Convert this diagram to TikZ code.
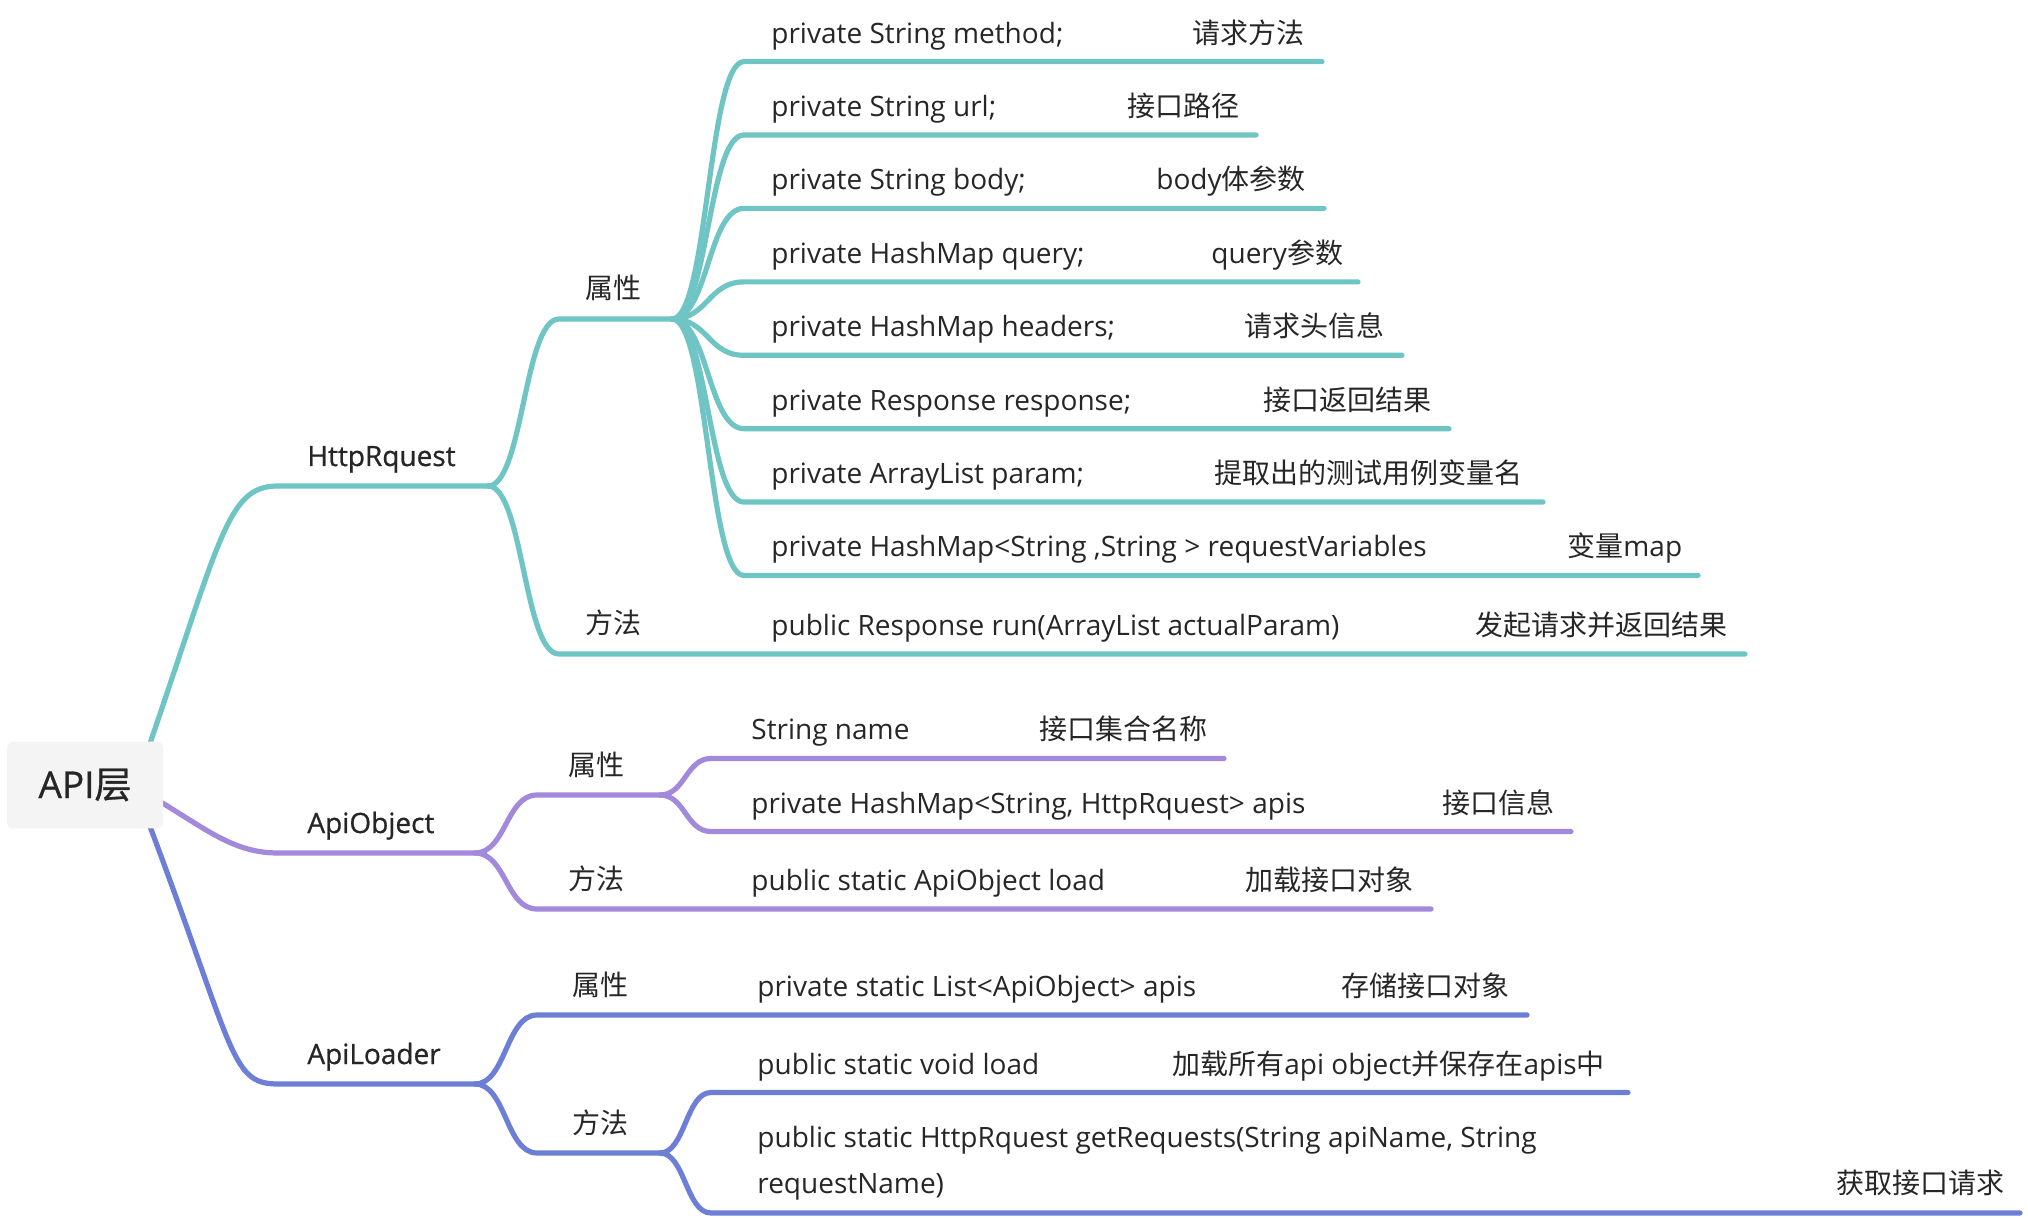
\documentclass[tikz,border=0pt]{standalone}
\usepackage{fontspec}
\setmainfont{Open Sans}
\newfontfamily\cjk{Noto Sans CJK SC}
\newfontfamily\semib[FakeBold=0.8]{Open Sans}
\newfontfamily\cjksemib[FakeBold=0.8]{Noto Sans CJK SC}
\newcommand{\zh}[1]{{\cjk #1}}
\usepackage{xcolor}
\usepackage{tikz}

\definecolor{tealline}{HTML}{6FC4C4}
\definecolor{purpline}{HTML}{A389DB}
\definecolor{blueline}{HTML}{6D7ED6}
\definecolor{rootgray}{HTML}{F4F4F4}
\definecolor{ink}{HTML}{262626}

\begin{document}
\begin{tikzpicture}[x=0.5pt,y=-0.5pt,
		txt/.style={anchor=base west, inner sep=0pt, text=ink, font=\fontsize{14}{23}\selectfont},
		head/.style={txt, font=\fontsize{14}{23}\selectfont\semib},
		wire/.style={line width=2.6pt, line cap=round}]
				\useasboundingbox (0,0) rectangle (2028,1218);
				\coordinate (rootOut) at (135,787);
				% HttpRquest
				\coordinate (hrA) at (278,486); \coordinate (hrB) at (488,486);
				\coordinate (hrAttrA) at (559,319); \coordinate (hrAttrB) at (672,319);
				\coordinate (hrMethA) at (559,654); \coordinate (hrMethB) at (1745,654);
				\coordinate (m1a) at (744,61.6); \coordinate (m1b) at (1322,61.6);
				\coordinate (m2a) at (744,135); \coordinate (m2b) at (1256,135);
				\coordinate (m3a) at (744,208.4); \coordinate (m3b) at (1324,208.4);
				\coordinate (m4a) at (744,281.9); \coordinate (m4b) at (1358,281.9);
				\coordinate (m5a) at (744,355.3); \coordinate (m5b) at (1402,355.3);
				\coordinate (m6a) at (744,428.7); \coordinate (m6b) at (1449,428.7);
				\coordinate (m7a) at (744,502.1); \coordinate (m7b) at (1543,502.1);
				\coordinate (m8a) at (744,575.5); \coordinate (m8b) at (1698,575.5);
				\draw[wire, tealline] (rootOut) .. controls (221,540) and (225,486) .. (hrA) -- (hrB);
				\draw[wire, tealline] (hrB) .. controls +(35,0) and +(-35,0) .. (hrAttrA) -- (hrAttrB);
				\draw[wire, tealline] (hrB) .. controls +(35,0) and +(-35,0) .. (hrMethA) -- (hrMethB);
				\draw[wire, tealline] (hrAttrB) .. controls +(36,0) and +(-36,0) .. (m1a) -- (m1b);
				\draw[wire, tealline] (hrAttrB) .. controls +(36,0) and +(-36,0) .. (m2a) -- (m2b);
				\draw[wire, tealline] (hrAttrB) .. controls +(36,0) and +(-36,0) .. (m3a) -- (m3b);
				\draw[wire, tealline] (hrAttrB) .. controls +(36,0) and +(-36,0) .. (m4a) -- (m4b);
				\draw[wire, tealline] (hrAttrB) .. controls +(36,0) and +(-36,0) .. (m5a) -- (m5b);
				\draw[wire, tealline] (hrAttrB) .. controls +(36,0) and +(-36,0) .. (m6a) -- (m6b);
				\draw[wire, tealline] (hrAttrB) .. controls +(36,0) and +(-36,0) .. (m7a) -- (m7b);
				\draw[wire, tealline] (hrAttrB) .. controls +(36,0) and +(-36,0) .. (m8a) -- (m8b);
				\node[head] (hr) at (307,466) {HttpRquest};
				\node[txt] (hrAttr) at (585,299) {\zh{属性}};
				\node[txt] (hrMeth) at (585,634) {\zh{方法}};
				\node[txt] (m1) at (771,43.1) {private String method;};
				\node[txt] (m1d) at (1192,43.1) {\zh{请求方法}};
				\node[txt] (m2) at (771,116.5) {private String url;};
				\node[txt] (m2d) at (1127,116.5) {\zh{接口路径}};
				\node[txt] (m3) at (771,189.9) {private String body;};
				\node[txt] (m3d) at (1156,189.9) {body\zh{体参数}};
				\node[txt] (m4) at (771,263.4) {private HashMap query;};
				\node[txt] (m4d) at (1211,263.4) {query\zh{参数}};
				\node[txt] (m5) at (771,336.8) {private HashMap headers;};
				\node[txt] (m5d) at (1244,336.8) {\zh{请求头信息}};
				\node[txt] (m6) at (771,410.2) {private Response response;};
				\node[txt] (m6d) at (1263,410.2) {\zh{接口返回结果}};
				\node[txt] (m7) at (771,483.6) {private ArrayList param;};
				\node[txt] (m7d) at (1214,483.6) {\zh{提取出的测试用例变量名}};
				\node[txt] (m8) at (771,557) {private HashMap<String ,String > requestVariables};
				\node[txt] (m8d) at (1567,557) {\zh{变量}map};
				\node[txt] (run) at (771,635.5) {public Response run(ArrayList actualParam)};
				\node[txt] (rund) at (1475,635.5) {\zh{发起请求并返回结果}};
				% ApiObject
				\coordinate (aoA) at (278,853); \coordinate (aoB) at (475,853);
				\coordinate (aoAttrA) at (537,795); \coordinate (aoAttrB) at (660,795);
				\coordinate (aoMethA) at (537,909); \coordinate (aoMethB) at (1431,909);
				\coordinate (n1a) at (711,758.5); \coordinate (n1b) at (1224,758.5);
				\coordinate (n2a) at (711,831.5); \coordinate (n2b) at (1571,831.5);
				\draw[wire, purpline] (rootOut) .. controls (200,823) and (228,853) .. (aoA) -- (aoB);
				\draw[wire, purpline] (aoB) .. controls +(31,0) and +(-31,0) .. (aoAttrA) -- (aoAttrB);
				\draw[wire, purpline] (aoB) .. controls +(31,0) and +(-31,0) .. (aoMethA) -- (aoMethB);
				\draw[wire, purpline] (aoAttrB) .. controls +(25,0) and +(-25,0) .. (n1a) -- (n1b);
				\draw[wire, purpline] (aoAttrB) .. controls +(25,0) and +(-25,0) .. (n2a) -- (n2b);
				\node[head] (ao) at (307,833) {ApiObject};
				\node[txt] (aoAttr) at (568,775) {\zh{属性}};
				\node[txt] (aoMeth) at (568,889) {\zh{方法}};
				\node[txt] (n1) at (751,740) {String name};
				\node[txt] (n1d) at (1039,740) {\zh{接口集合名称}};
				\node[txt] (n2) at (751,813) {private HashMap<String, HttpRquest> apis};
				\node[txt] (n2d) at (1442,813) {\zh{接口信息}};
				\node[txt] (load) at (751,890) {public static ApiObject load};
				\node[txt] (loadd) at (1245,890) {\zh{加载接口对象}};
				% ApiLoader
				\coordinate (alA) at (278,1084); \coordinate (alB) at (475,1084);
				\coordinate (alAttrA) at (537,1015); \coordinate (alAttrB) at (1527,1015);
				\coordinate (alMethA) at (537,1153); \coordinate (alMethB) at (660,1153);
				\coordinate (l1a) at (711,1092.5); \coordinate (l1b) at (1628,1092.5);
				\coordinate (l2a) at (711,1213); \coordinate (l2b) at (2020,1213);
				\draw[wire, blueline] (rootOut) .. controls (236,1050) and (228,1084) .. (alA) -- (alB);
				\draw[wire, blueline] (alB) .. controls +(31,0) and +(-31,0) .. (alAttrA) -- (alAttrB);
				\draw[wire, blueline] (alB) .. controls +(31,0) and +(-31,0) .. (alMethA) -- (alMethB);
				\draw[wire, blueline] (alMethB) .. controls +(25,0) and +(-25,0) .. (l1a) -- (l1b);
				\draw[wire, blueline] (alMethB) .. controls +(25,0) and +(-25,0) .. (l2a) -- (l2b);
				\node[head] (al) at (307,1064) {ApiLoader};
				\node[txt] (alAttr) at (572,995) {\zh{属性}};
				\node[txt] (alMeth) at (572,1133) {\zh{方法}};
				\node[txt] (apis) at (757,996.5) {private static List<ApiObject> apis};
				\node[txt] (apisd) at (1341,996.5) {\zh{存储接口对象}};
				\node[txt] (l1) at (757,1074) {public static void load};
				\node[txt] (l1d) at (1172,1074) {\zh{加载所有}api object\zh{并保存在}apis\zh{中}};
				\node[txt, align=left] (l2) at (757,1193) {public static HttpRquest getRequests(String apiName, String\\requestName)};
				\node[txt] (l2d) at (1836,1193) {\zh{获取接口请求}};
				% root on top of its wires
				\node[fill=rootgray, rounded corners=3pt, minimum width=78pt, minimum height=43.3pt, inner sep=0pt, text=ink, font=\fontsize{18.5}{20}\selectfont\semib] (root) at (85,785) {API{\cjksemib 层}};
			\end{tikzpicture}
\end{document}
